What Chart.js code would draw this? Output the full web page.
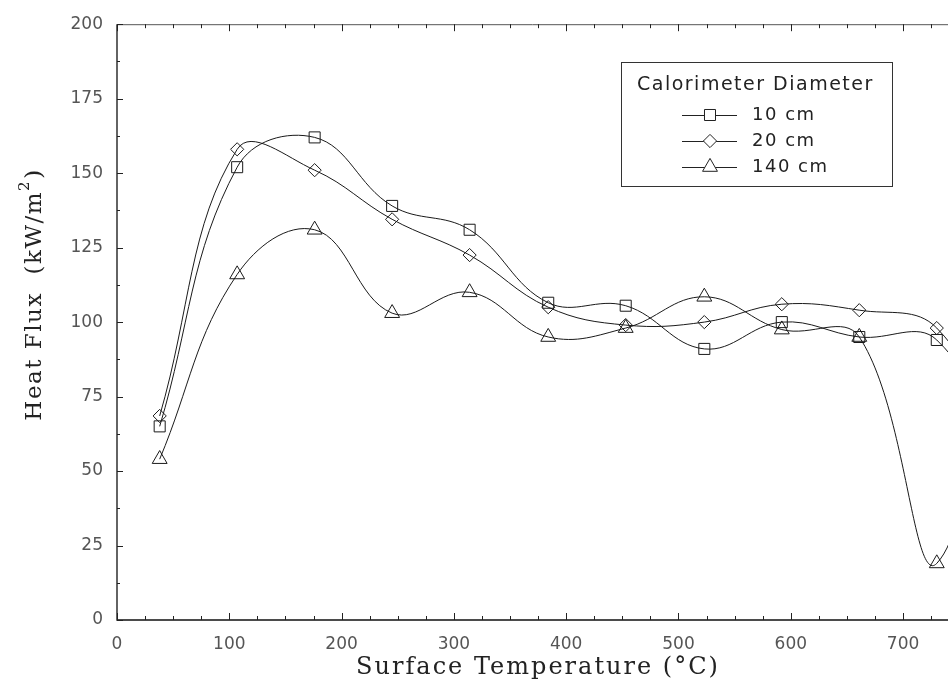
<!DOCTYPE html>
<html>
<head>
<meta charset="utf-8">
<title>Heat Flux vs Surface Temperature</title>
<script src="https://cdn.jsdelivr.net/npm/chart.js@4.4.0/dist/chart.umd.min.js"></script>
<style>
    html, body { margin: 0; padding: 0; background: #fff; overflow: hidden; }
    #wrap { width: 948px; height: 691px; }
</style>
</head>
<body>
<div id="wrap"><canvas id="heatChart" width="948" height="691"></canvas></div>
<script>
// --- DATA ---
// surface temperature (°C) of each measurement; the last one lies past the right edge
const temps = [38, 107, 176, 245, 314, 384, 453, 523, 592, 661, 730, 800];
const flux10cm = [65, 152, 162, 139, 131, 106.5, 105.5, 91, 100, 95, 94, 45];
const flux20cm = [68.5, 158, 151, 134.5, 122.5, 105, 99, 100, 106, 104, 98, 50];
const flux140cm = [54, 116, 131, 103, 110, 95, 98, 108.5, 97.5, 95, 19, 150];

const xTicks = [0, 100, 200, 300, 400, 500, 600, 700];
const yTicks = [0, 25, 50, 75, 100, 125, 150, 175, 200];
const legendLabels = ['10 cm', '20 cm', '140 cm'];
const legendTitle = 'Calorimeter Diameter';
const xTitle = 'Surface Temperature (°C)';

function toPoints(values) {
    return temps.map((t, i) => ({ x: t, y: values[i] }));
}

const markerStyles = [
    { pointStyle: 'rect', radius: 7.8 },
    { pointStyle: 'rectRot', radius: 6.6 },
    { pointStyle: 'triangle', radius: 8.6 }
];

function makeDataset(label, values, m) {
    return {
        label: label,
        data: toPoints(values),
        borderColor: '#1a1a1a',
        borderWidth: 1,
        tension: 0.4,
        fill: false,
        pointStyle: m.pointStyle,
        pointRadius: m.radius,
        pointBorderWidth: 1,
        pointBorderColor: '#1a1a1a',
        pointBackgroundColor: 'rgba(0,0,0,0)'
    };
}

// marker used both in the plot and in the legend box
function drawMarker(ctx, m, x, y) {
    if (Chart.helpers && Chart.helpers.drawPoint) {
        Chart.helpers.drawPoint(ctx, { pointStyle: m.pointStyle, radius: m.radius, rotation: 0, borderWidth: 1 }, x, y);
        return;
    }
    ctx.beginPath();
    ctx.arc(x, y, m.radius, 0, Math.PI * 2);
    ctx.stroke();
}

// frame with inward ticks, axis titles and the boxed legend
const frameAndLegend = {
    id: 'frameAndLegend',
    afterDraw(chart) {
        const { ctx, chartArea: a, scales } = chart;
        const x = scales.x, y = scales.y;
        ctx.save();

        // frame
        ctx.strokeStyle = '#111';
        ctx.lineWidth = 1.3;
        ctx.beginPath();
        ctx.moveTo(a.left, a.top);
        ctx.lineTo(a.left, a.bottom);
        ctx.lineTo(a.right, a.bottom);
        ctx.stroke();
        ctx.strokeStyle = '#555';
        ctx.lineWidth = 1;
        ctx.beginPath();
        ctx.moveTo(a.left, a.top + 0.5);
        ctx.lineTo(a.right, a.top + 0.5);
        ctx.stroke();

        // inward ticks
        ctx.strokeStyle = '#222';
        ctx.lineWidth = 1;
        ctx.beginPath();
        for (let v = 0; v <= x.max; v += 25) {
            const px = Math.round(x.getPixelForValue(v)) + 0.5;
            const len = v % 100 === 0 ? 7 : 4;
            ctx.moveTo(px, a.bottom);
            ctx.lineTo(px, a.bottom - len);
            ctx.moveTo(px, a.top);
            ctx.lineTo(px, a.top + len);
        }
        for (let v = 0; v <= y.max; v += 12.5) {
            const py = Math.round(y.getPixelForValue(v)) + 0.5;
            const len = v % 25 === 0 ? 6 : 3;
            ctx.moveTo(a.left, py);
            ctx.lineTo(a.left + len, py);
        }
        ctx.stroke();

        // axis titles
        ctx.fillStyle = '#222';
        ctx.font = '24px "DejaVu Serif"';
        ctx.letterSpacing = '2px';
        ctx.textAlign = 'center';
        ctx.textBaseline = 'middle';
        ctx.fillText(xTitle, 538, 668);

        ctx.save();
        ctx.translate(33, 295);
        ctx.rotate(-Math.PI / 2);
        ctx.textAlign = 'left';
        ctx.textBaseline = 'alphabetic';
        ctx.letterSpacing = '1.5px';
        const main = 'Heat Flux  (kW/m';
        ctx.font = '23px "DejaVu Serif"';
        const wMain = ctx.measureText(main).width;
        ctx.font = '15px "DejaVu Serif"';
        const wSup = ctx.measureText('2').width;
        ctx.font = '23px "DejaVu Serif"';
        const wEnd = ctx.measureText(')').width;
        let sx = -(wMain + wSup + wEnd) / 2;
        ctx.fillText(main, sx, 8);
        sx += wMain;
        ctx.font = '15px "DejaVu Serif"';
        ctx.fillText('2', sx, -4);
        sx += wSup + 1;
        ctx.font = '23px "DejaVu Serif"';
        ctx.fillText(')', sx, 8);
        ctx.restore();

        // legend box
        ctx.letterSpacing = '0px';
        ctx.fillStyle = '#fff';
        ctx.fillRect(621, 62, 271, 124);
        ctx.strokeStyle = '#333';
        ctx.lineWidth = 1;
        ctx.strokeRect(621.5, 62.5, 271, 124);
        ctx.fillStyle = '#222';
        ctx.font = '19px "DejaVu Sans"';
        ctx.letterSpacing = '1.5px';
        ctx.textAlign = 'left';
        ctx.textBaseline = 'middle';
        ctx.fillText(legendTitle, 637, 85);
        ctx.font = '18px "DejaVu Sans"';
        ctx.letterSpacing = '1.5px';
        const rowsY = [115, 141, 167];
        legendLabels.forEach((lab, i) => {
            const ry = rowsY[i];
            ctx.strokeStyle = '#222';
            ctx.beginPath();
            ctx.moveTo(682, ry + 0.5);
            ctx.lineTo(737, ry + 0.5);
            ctx.stroke();
            ctx.fillStyle = '#fff';
            drawMarker(ctx, markerStyles[i], 710, ry);
            ctx.fillStyle = '#222';
            ctx.fillText(lab, 752, ry);
        });

        ctx.restore();
    }
};

const ctx = document.getElementById('heatChart').getContext('2d');
const heatChart = new Chart(ctx, {
    type: 'line',
    data: {
        datasets: [
            makeDataset('10 cm', flux10cm, markerStyles[0]),
            makeDataset('20 cm', flux20cm, markerStyles[1]),
            makeDataset('140 cm', flux140cm, markerStyles[2])
        ]
    },
    options: {
        responsive: false,
        animation: false,
        layout: { autoPadding: false, padding: { top: 18, right: 0, left: 0, bottom: 0 } },
        plugins: {
            legend: { display: false },
            tooltip: { enabled: false }
        },
        scales: {
            x: {
                type: 'linear',
                min: 0,
                max: 740,
                afterBuildTicks: (s) => { s.ticks = xTicks.map(v => ({ value: v })); },
                afterFit: (s) => { s.height = 71; s.paddingRight = 0; s.paddingLeft = 0; },
                grid: { display: false, drawTicks: false },
                border: { display: false },
                ticks: {
                    padding: 14,
                    maxRotation: 0,
                    color: '#555',
                    font: { family: 'DejaVu Sans', size: 17 }
                }
            },
            y: {
                min: 0,
                max: 200,
                afterBuildTicks: (s) => { s.ticks = yTicks.map(v => ({ value: v })); },
                afterFit: (s) => { s.width = 117; },
                grid: { display: false, drawTicks: false },
                border: { display: false },
                ticks: {
                    padding: 14,
                    color: '#555',
                    font: { family: 'DejaVu Sans', size: 17 }
                }
            }
        }
    },
    plugins: [frameAndLegend]
});
</script>
</body>
</html>
